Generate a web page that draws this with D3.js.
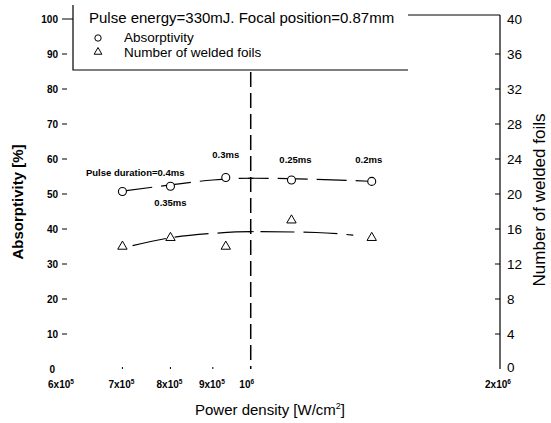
<!DOCTYPE html>
<html>
<head>
<meta charset="utf-8">
<script src="https://cdn.jsdelivr.net/npm/d3@7"></script>
<style>
  body { margin: 0; background: #fff; }
  svg { display: block; font-family: "Liberation Sans", Arial, sans-serif; }
</style>
</head>
<body>
<svg id="chart" width="551" height="423"></svg>
<script>
// data
const powerDensity = [7.0e5, 8.0e5, 9.33e5, 1.12e6, 1.4e6];
const durationLabels = ["Pulse duration=0.4ms", "0.35ms", "0.3ms", "0.25ms", "0.2ms"];
const absorptivity = [50.7, 52.2, 54.7, 54.0, 53.6];
const weldedFoils = [14.0, 15.0, 14.0, 17.0, 15.0];

// hand-drawn trend curves
const absFitX = [7.0e5, 8.0e5, 9.0e5, 1.0e6, 1.2e6, 1.4e6];
const absFitY = [50.8, 52.6, 54.0, 54.5, 54.2, 53.6];
const foilFitX = [7.2e5, 8.0e5, 9.0e5, 1.0e6, 1.2e6, 1.33e6];
const foilFitY = [14.1, 15.0, 15.5, 15.7, 15.6, 15.3];

const leftTicks = [0, 10, 20, 30, 40, 50, 60, 70, 80, 90, 100];
const rightTicks = [0, 4, 8, 12, 16, 20, 24, 28, 32, 36, 40];
const xTicks = [6e5, 7e5, 8e5, 9e5, 1e6, 2e6];
const xTickLabels = [["6x10", "5"], ["7x10", "5"], ["8x10", "5"], ["9x10", "5"], ["10", "6"], ["2x10", "6"]];

const svg = d3.select("#chart");
const W = 551, H = 423;
const x0 = 67, x1 = 500, yTop = 19, yBot = 369;

const x = d3.scaleLog().domain([6e5, 2e6]).range([x0, x1]);
const yL = d3.scaleLinear().domain([0, 100]).range([yBot, yTop]);
const yR = d3.scaleLinear().domain([0, 40]).range([yBot, yTop]);

svg.append("rect").attr("width", W).attr("height", H).attr("fill", "#fff");

// left ticks (no axis line)
const gl = svg.append("g").attr("transform", `translate(${x0},0)`);
gl.selectAll("line").data(leftTicks).enter().append("line")
  .attr("x1", -5).attr("x2", d => d === 100 ? 6 : 0)
  .attr("y1", d => yL(d)).attr("y2", d => yL(d))
  .attr("stroke", "#000").attr("stroke-width", 1)
  .attr("display", d => d === 0 ? "none" : null);
gl.selectAll("text").data(leftTicks).enter().append("text")
  .attr("x", d => d === 0 ? -12 : -9)
  .attr("y", d => d === 0 ? yL(d) + 4 : yL(d) + 3.5)
  .attr("text-anchor", "end")
  .attr("font-size", 10).attr("font-weight", "bold")
  .text(d => d);

// right axis
const gr = svg.append("g").attr("transform", `translate(${x1},0)`);
gr.append("line").attr("x1", 0).attr("x2", 0).attr("y1", 15).attr("y2", yBot)
  .attr("stroke", "#000").attr("stroke-width", 1.2);
gr.selectAll("line.t").data(rightTicks.filter(d => d > 0 && d < 40)).enter().append("line")
  .attr("class", "t")
  .attr("x1", -5).attr("x2", 0)
  .attr("y1", d => yR(d)).attr("y2", d => yR(d))
  .attr("stroke", "#000");
gr.selectAll("text").data(rightTicks).enter().append("text")
  .attr("x", 7)
  .attr("y", d => d === 0 ? yR(d) + 3 : yR(d) + 5)
  .attr("font-size", 13.5)
  .text(d => d);

// top frame piece right of legend
svg.append("line").attr("x1", 408).attr("x2", x1).attr("y1", 15).attr("y2", 15)
  .attr("stroke", "#000").attr("stroke-width", 1);

// x ticks
const gx = svg.append("g");
gx.selectAll("line").data(xTicks.slice(1, 4)).enter().append("line")
  .attr("x1", d => x(d)).attr("x2", d => x(d))
  .attr("y1", yBot - 2).attr("y2", yBot)
  .attr("stroke", "#000");
const xOff = [-6, -1, -1, -1, -4, -2];
const xl = gx.selectAll("text").data(xTicks).enter().append("text")
  .attr("x", (d, i) => x(d) + xOff[i])
  .attr("y", 388)
  .attr("text-anchor", "middle")
  .attr("font-size", 10).attr("font-weight", "bold");
xl.append("tspan").text((d, i) => xTickLabels[i][0]);
xl.append("tspan").attr("dy", -4).attr("font-size", 6.5).text((d, i) => xTickLabels[i][1]);

// vertical dashed line at 10^6
svg.append("line")
  .attr("x1", x(1e6)).attr("x2", x(1e6))
  .attr("y1", 72).attr("y2", yBot)
  .attr("stroke", "#000").attr("stroke-width", 1.5)
  .attr("stroke-dasharray", "15,6");

// trend curves
const curve = d3.line().curve(d3.curveMonotoneX);
svg.append("path")
  .attr("d", curve(absFitX.map((d, i) => [x(d), yL(absFitY[i])])))
  .attr("fill", "none").attr("stroke", "#000").attr("stroke-width", 1.2)
  .attr("stroke-dasharray", "30,9");
svg.append("path")
  .attr("d", curve(foilFitX.map((d, i) => [x(d), yR(foilFitY[i])])))
  .attr("fill", "none").attr("stroke", "#000").attr("stroke-width", 1.2)
  .attr("stroke-dasharray", "34,9");

// small cross marks where curves meet the dashed line
[yL(54.5), yR(15.7)].forEach(yy => {
  svg.append("line").attr("x1", x(1e6) - 3).attr("x2", x(1e6) + 3)
    .attr("y1", yy).attr("y2", yy).attr("stroke", "#000");
});

// markers
svg.selectAll("circle.abs").data(powerDensity).enter().append("circle")
  .attr("class", "abs")
  .attr("cx", d => x(d)).attr("cy", (d, i) => yL(absorptivity[i]))
  .attr("r", 4).attr("fill", "#fff").attr("stroke", "#000").attr("stroke-width", 1.1);

const tri = d3.symbol().type(d3.symbolTriangle).size(38);
svg.selectAll("path.foil").data(powerDensity).enter().append("path")
  .attr("class", "foil")
  .attr("transform", (d, i) => `translate(${x(d)},${yR(weldedFoils[i])})`)
  .attr("d", tri).attr("fill", "#fff").attr("stroke", "#000").attr("stroke-width", 1);

// pulse duration labels: [dx, dy, anchor]
const labelPos = [[62, -16, "end"], [0, 20, "middle"], [0, -20, "middle"], [4, -17, "middle"], [-3, -18, "middle"]];
svg.selectAll("text.dur").data(powerDensity).enter().append("text")
  .attr("class", "dur")
  .attr("x", (d, i) => x(d) + labelPos[i][0])
  .attr("y", (d, i) => yL(absorptivity[i]) + labelPos[i][1])
  .attr("text-anchor", (d, i) => labelPos[i][2])
  .attr("font-size", 9.5).attr("font-weight", "bold")
  .text((d, i) => durationLabels[i]);

// legend box
const lg = svg.append("g");
lg.append("path").attr("d", "M73,5 V70 H408")
  .attr("fill", "none").attr("stroke", "#000").attr("stroke-width", 1.2);
lg.append("text").attr("x", 89).attr("y", 23).attr("font-size", 15)
  .text("Pulse energy=330mJ. Focal position=0.87mm");
lg.append("circle").attr("cx", 98).attr("cy", 38).attr("r", 3.2)
  .attr("fill", "none").attr("stroke", "#000");
lg.append("text").attr("x", 124).attr("y", 42).attr("font-size", 13.5).text("Absorptivity");
lg.append("path").attr("transform", "translate(98,52)")
  .attr("d", d3.symbol().type(d3.symbolTriangle).size(26))
  .attr("fill", "none").attr("stroke", "#000");
lg.append("text").attr("x", 124).attr("y", 57).attr("font-size", 13.5).text("Number of welded foils");

// axis titles
svg.append("text")
  .attr("transform", `translate(23,${(yTop + yBot) / 2 + 8}) rotate(-90)`)
  .attr("text-anchor", "middle").attr("font-size", 15).attr("font-weight", "bold")
  .text("Absorptivity [%]");
svg.append("text")
  .attr("transform", `translate(545,${(yTop + yBot) / 2 + 6}) rotate(-90)`)
  .attr("text-anchor", "middle").attr("font-size", 17)
  .text("Number of welded foils");
const xt = svg.append("text")
  .attr("x", 270).attr("y", 415)
  .attr("text-anchor", "middle").attr("font-size", 15);
xt.append("tspan").text("Power density [W/cm");
xt.append("tspan").attr("dy", -6).attr("font-size", 9).text("2");
xt.append("tspan").attr("dy", 6).text("]");
</script>
</body>
</html>
